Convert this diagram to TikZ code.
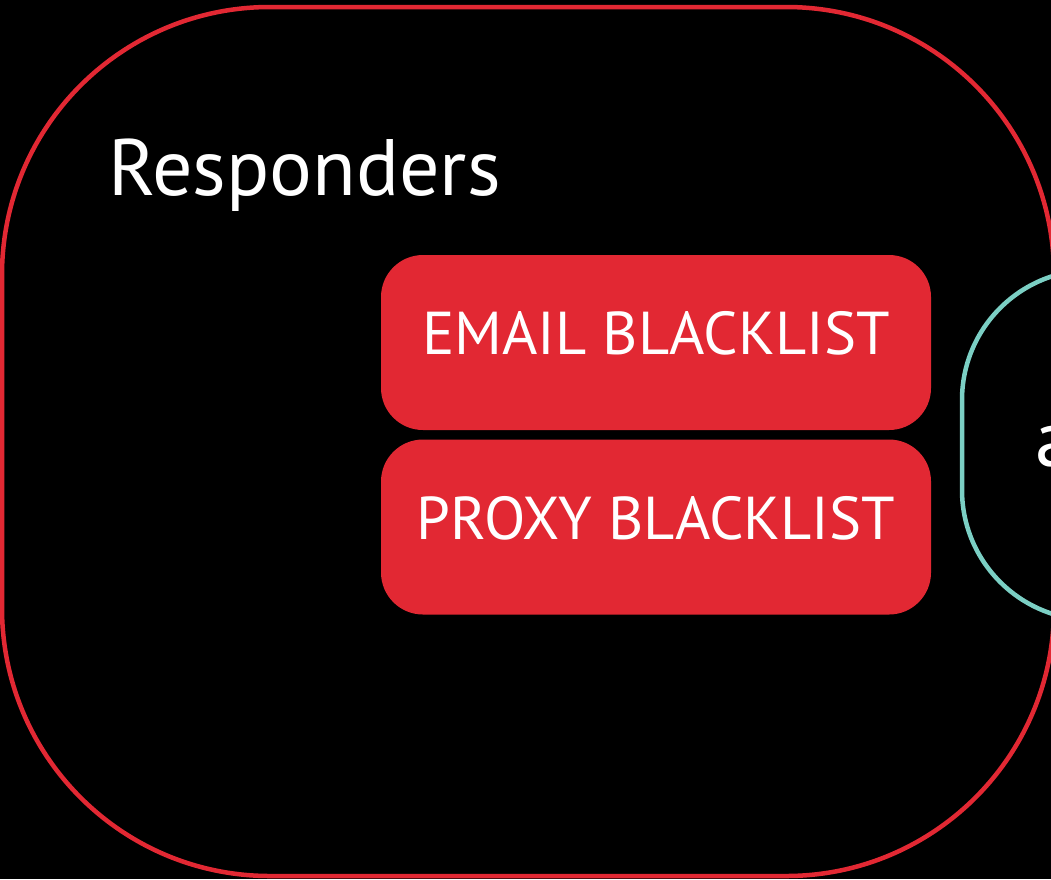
\documentclass[tikz,border=0pt]{standalone}
\usepackage{fontspec}
\setmainfont{PT Sans}
\usetikzlibrary{calc}
\definecolor{respred}{HTML}{E22833}
\definecolor{teal2}{HTML}{7BCFC4}
\tikzset{
  frame/.style={draw=respred, line width=4.5pt, rounded corners=268pt,
    minimum width=1052pt, minimum height=869pt, inner sep=0pt},
  redbox/.style={fill=respred, rounded corners=42pt,
    minimum width=550pt, minimum height=175pt, inner sep=0pt},
  tealbox/.style={draw=teal2, line width=4.5pt, rounded corners=130pt,
    minimum width=260pt, minimum height=350pt, inner sep=0pt},
  boxlabel/.style={text=white, inner sep=0pt, font=\fontsize{60.5}{60.5}\selectfont},
  biglabel/.style={text=white, inner sep=0pt, font=\fontsize{80}{80}\selectfont},
}
\begin{document}
\begin{tikzpicture}[x=1pt,y=-1pt]
  % canvas
  \fill[black] (0,0) rectangle (1051,879);
  \useasboundingbox (0,0) rectangle (1051,879);
  \clip (0,0) rectangle (1051,879);
  % outer group
  \node[frame] (group) at (528,441.5) {};
  \node[biglabel, anchor=base west] (title) at (108,195) {Responders};
  % blacklist responders
  \node[redbox] (email) at (656,342.5) {};
  \node[boxlabel, anchor=base] (emailtext) at ($(email.center)+(0,11.5)$) {EMAIL BLACKLIST};
  \node[redbox] (proxy) at (656,527) {};
  \node[boxlabel, anchor=base] (proxytext) at ($(proxy.center)+(0,12)$) {PROXY BLACKLIST};
  % neighbouring group, partly in view
  \node[tealbox] (side) at (1092,445) {};
  \node[biglabel, anchor=base west] (sidetext) at (1035,466) {a};
\end{tikzpicture}
\end{document}
